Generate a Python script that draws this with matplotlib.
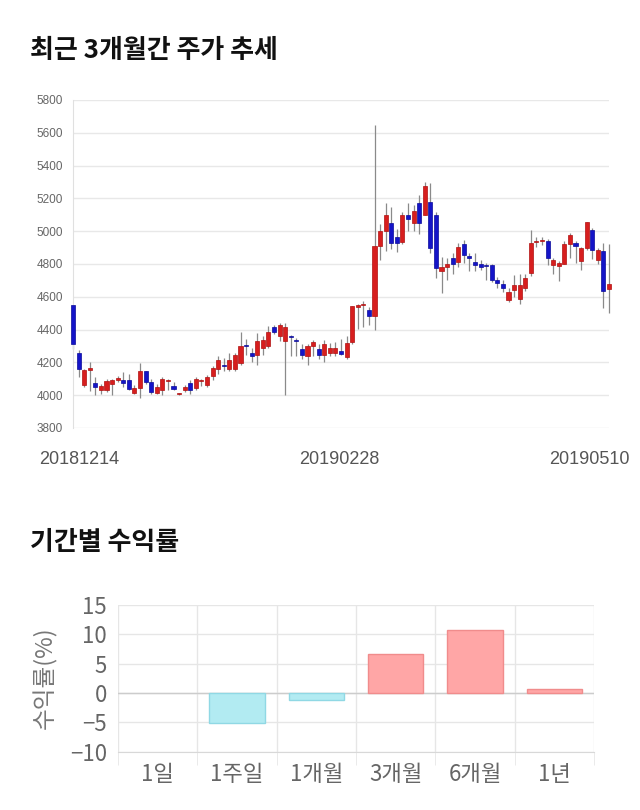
import numpy as np
import matplotlib
matplotlib.use("Agg")
import matplotlib.pyplot as plt

plt.rcParams['font.family'] = ['Noto Sans CJK KR', 'DejaVu Sans']

# ---- daily candles, 20181214 .. 20190510 ----
opens = [4550, 4257, 4063, 4155, 4073, 4029, 4029, 4069, 4090, 4094,
         4094, 4016, 4043, 4147, 4080, 4016, 4033, 4086, 4057, 4006,
         4029, 4073, 4043, 4084, 4063, 4118, 4161, 4186, 4159, 4159,
         4196, 4304, 4257, 4243, 4288, 4302, 4414, 4359, 4333, 4357,
         4339, 4282, 4237, 4302, 4282, 4247, 4257, 4257, 4267, 4230,
         4322, 4538, 4548, 4518, 4483, 4910, 4999, 5050, 4964, 4934,
         5100, 5050, 5174, 5100, 5176, 5098, 4759, 4784, 4835, 4814,
         4920, 4845, 4814, 4800, 4794, 4794, 4703, 4678, 4581, 4642,
         4588, 4651, 4746, 4933, 4939, 4943, 4791, 4787, 4803, 4925,
         4929, 4817, 4898, 5006, 4823, 4882, 4645]
closes = [4310, 4157, 4155, 4161, 4049, 4055, 4086, 4094, 4106, 4073,
          4037, 4043, 4147, 4080, 4018, 4053, 4100, 4090, 4037, 4012,
          4053, 4033, 4098, 4090, 4114, 4165, 4212, 4176, 4216, 4243,
          4302, 4300, 4241, 4329, 4339, 4388, 4386, 4427, 4414, 4353,
          4329, 4243, 4298, 4324, 4243, 4312, 4288, 4288, 4253, 4320,
          4544, 4548, 4552, 4483, 4910, 4999, 5100, 4930, 4930, 5100,
          5076, 5123, 5050, 5273, 4899, 4774, 4784, 4800, 4800, 4901,
          4855, 4839, 4794, 4780, 4788, 4703, 4686, 4652, 4631, 4672,
          4669, 4716, 4929, 4939, 4949, 4834, 4823, 4807, 4925, 4976,
          4909, 4898, 5055, 4884, 4884, 4634, 4681]
highs = [4550, 4273, 4160, 4202, 4114, 4069, 4100, 4100, 4120, 4140,
         4130, 4060, 4196, 4150, 4100, 4070, 4110, 4100, 4078, 4016,
         4063, 4090, 4114, 4098, 4124, 4180, 4237, 4227, 4257, 4257,
         4386, 4343, 4288, 4380, 4360, 4420, 4431, 4439, 4441, 4370,
         4350, 4312, 4312, 4339, 4312, 4339, 4318, 4327, 4345, 4360,
         4544, 4558, 4572, 4538, 5649, 5046, 5173, 5150, 5015, 5117,
         5173, 5160, 5218, 5299, 5295, 5119, 4840, 4835, 4865, 4930,
         4946, 4870, 4866, 4825, 4804, 4798, 4723, 4703, 4652, 4732,
         4736, 4742, 5006, 4966, 4966, 4953, 4837, 4817, 4939, 4986,
         4939, 4905, 5055, 5020, 4898, 4929, 4919]
lows = [4280, 4110, 4049, 4025, 4000, 4008, 4018, 4000, 4080, 4050,
        4030, 4008, 3985, 4070, 4010, 4008, 4000, 4033, 4033, 4000,
        4018, 4008, 4033, 4057, 4049, 4094, 4127, 4145, 4145, 4145,
        4186, 4247, 4202, 4186, 4247, 4288, 4372, 4329, 4000, 4237,
        4237, 4220, 4186, 4237, 4222, 4200, 4237, 4237, 4243, 4220,
        4310, 4406, 4416, 4426, 4396, 4822, 4880, 4893, 4875, 4924,
        4999, 4999, 4984, 5096, 4865, 4713, 4625, 4703, 4738, 4784,
        4804, 4759, 4759, 4764, 4703, 4693, 4652, 4632, 4570, 4600,
        4559, 4635, 4726, 4905, 4913, 4793, 4740, 4695, 4797, 4838,
        4807, 4766, 4888, 4828, 4803, 4533, 4503]
date_labels = ['20181214', '20190228', '20190510']

# ---- period returns ----
periods = ['1일', '1주일', '1개월', '3개월', '6개월', '1년']
returns = [0.0, -5.1, -1.25, 6.7, 10.7, 0.6]

W, H = 640, 810
fig = plt.figure(figsize=(W / 100, H / 100), dpi=100)

def fx(px):
    return px / W

def fy(py):
    return 1 - py / H

# titles
fig.text(fx(30), fy(51), '최근 3개월간 주가 추세', fontsize=18.7, fontweight='bold',
         color='#111111', va='center', ha='left')
fig.text(fx(30), fy(543), '기간별 수익률', fontsize=18.7, fontweight='bold',
         color='#111111', va='center', ha='left')

# ---------------- candle chart ----------------
ax = fig.add_axes([fx(73), fy(428), fx(609) - fx(73), (428 - 100) / H])
o = np.array(opens)
c = np.array(closes)
x = np.arange(len(o))
up = c >= o
body_lo = np.minimum(o, c)
body_h = np.maximum(np.abs(c - o), 8)

ax.vlines(x, lows, highs, color='#8a8a8a', lw=0.9, zorder=2, clip_on=False)
ax.bar(x[up], body_h[up], bottom=body_lo[up], width=0.72, color='#d71e1e',
       edgecolor='#b01010', lw=0.5, zorder=3, clip_on=False)
ax.bar(x[~up], body_h[~up], bottom=body_lo[~up], width=0.72, color='#1414c8',
       edgecolor='#0a0a9a', lw=0.5, zorder=3, clip_on=False)

ax.set_xlim(0, len(o) - 1)
ax.set_ylim(3800, 5800)
ax.set_yticks(np.arange(3800, 5801, 200))
ax.yaxis.grid(True, color='#e8e8e8', lw=1)
ax.set_axisbelow(True)
for s in ['top', 'right', 'bottom']:
    ax.spines[s].set_visible(False)
ax.spines['left'].set_color('#e0e0e0')
ax.set_xticks([])
ax.tick_params(axis='y', length=0, pad=7, labelsize=8.5, labelcolor='#666666')
for t in ax.get_yticklabels():
    t.set_family(['Liberation Sans', 'DejaVu Sans'])

date_style = dict(fontsize=13, color='#555555', va='center',
                  family=['Liberation Sans Narrow', 'Liberation Sans', 'DejaVu Sans'])
fig.text(fx(79), fy(460), date_labels[0], ha='center', **date_style)
fig.text(fx(339), fy(460), date_labels[1], ha='center', **date_style)
fig.text(fx(630), fy(460), date_labels[2], ha='right', **date_style)

# ---------------- returns bar chart ----------------
bx = fig.add_axes([fx(118), fy(751.7), fx(594) - fx(118), (751.7 - 605) / H])
r = np.array(returns)
cols = ['#ffa6a6' if v > 0 else '#b2ebf2' for v in r]
edges = ['#f08c8c' if v > 0 else '#90d8e4' for v in r]
widths = [1 if v != 0 else 0 for v in r]
bx.bar(np.arange(len(r)), r, width=0.7, color=cols, edgecolor=edges, lw=widths, zorder=3)
bx.set_xlim(-0.5, len(r) - 0.5)
bx.set_ylim(-10, 15)
bx.set_yticks([-10, -5, 0, 5, 10, 15])
bx.yaxis.grid(True, color='#e6e6e6', lw=1)
bx.axhline(0, color='#cccccc', lw=1, zorder=2)
for b in np.arange(len(r) + 1) - 0.5:
    bx.axvline(b, color='#e6e6e6', lw=1, zorder=1)
bx.set_axisbelow(True)
for s in ['top', 'right', 'left']:
    bx.spines[s].set_visible(False)
bx.spines['bottom'].set_color('#d8d8d8')
bx.set_xticks(np.arange(len(r) + 1) - 0.5, minor=True)
bx.set_xticks(np.arange(len(r)))
bx.set_xticklabels(periods)
bx.tick_params(axis='x', which='minor', length=9, color='#e6e6e6')
bx.tick_params(axis='x', which='major', length=0, pad=8, labelsize=16, labelcolor='#666666')
bx.tick_params(axis='y', length=0, pad=8, labelsize=16, labelcolor='#666666')
fig.text(fx(45), fy(678), '수익률(%)', rotation=90, fontsize=17, color='#777777',
         ha='center', va='center')

fig.savefig('out.png', dpi=100)
